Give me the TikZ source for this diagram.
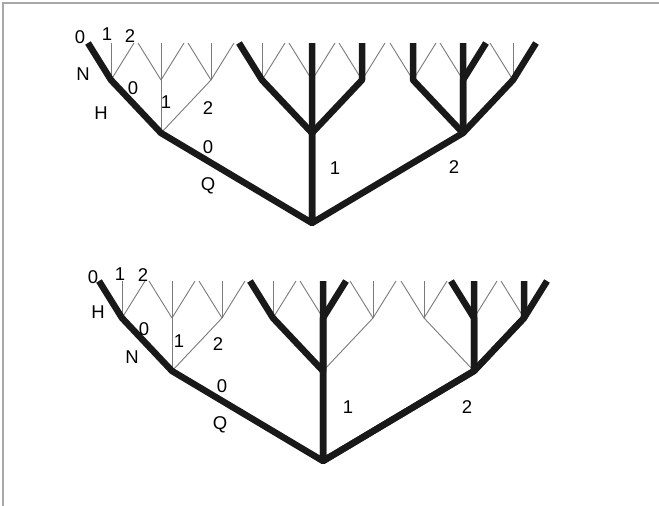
\documentclass[tikz,border=0pt]{standalone}
\usepackage{fontspec}
\setmainfont{Liberation Sans}
\usetikzlibrary{positioning}

\definecolor{twiggray}{HTML}{7A7A7A}
\definecolor{framegray}{HTML}{A8A8A8}

\tikzset{
  twig/.style={draw=twiggray, line width=0.9pt},
  limb/.style={draw=black!90, line width=6.5pt, line cap=butt, line join=round},
  lbl/.style={font=\fontsize{18.5}{18.5}\selectfont, inner sep=0pt},
}

% ternary tree: #1 prefix, root at (#2,#3)
\newcommand\growtree[3]{%
  \coordinate (#1) at (#2,#3);
  \foreach \i/\a in {0/-151,1/0,2/151}{
    \coordinate (#1\i) at (#2+\a,#3-90);
    \draw[twig] (#1) -- (#1\i);
    \foreach \j/\b in {0/-50,1/0,2/50}{
      \coordinate (#1\i\j) at (#2+\a+\b,#3-143);
      \draw[twig] (#1\i) -- (#1\i\j);
      \foreach \k/\c in {0/-23,1/0,2/23}{
        \coordinate (#1\i\j\k) at (#2+\a+\b+\c,#3-180);
        \draw[twig] (#1\i\j) -- (#1\i\j\k);
      }
    }
  }%
}

\begin{document}
\begin{tikzpicture}[x=1pt, y=-1pt]
  \useasboundingbox (0,0) rectangle (659,506);
  \draw[framegray, line width=1.5pt] (3,506) -- (3,3) -- (659,3);

  % upper tree
  \growtree{t}{312}{223}
  \draw[limb] (t000) -- (t00) -- (t0) -- (t) -- (t1) -- (t11) -- (t111);
  \draw[limb] (t100) -- (t10) -- (t1) -- (t12) -- (t121);
  \draw[limb] (t1) -- (t) -- (t2) -- (t21) -- (t211);
  \draw[limb] (t201) -- (t20) -- (t2) -- (t22) -- (t222);
  \draw[limb] (t2) -- (t21) -- (t212);

  \node[lbl] (tl0) at (80,37) {0};
  \node[lbl] (tl1) at (107,34) {1};
  \node[lbl] (tl2) at (130,36) {2};
  \node[lbl] (tN) at (83,74) {N};
  \node[lbl] (tH) at (101,113) {H};
  \node[lbl] (tm0) at (133,88) {0};
  \node[lbl] (tm1) at (166,102) {1};
  \node[lbl] (tm2) at (208,108) {2};
  \node[lbl] (tr0) at (208,147) {0};
  \node[lbl] (tQ) at (208,186) {Q};
  \node[lbl] (tr1) at (335,168) {1};
  \node[lbl] (tr2) at (454,167) {2};

  % lower tree
  \growtree{b}{323}{461}
  \draw[limb] (b000) -- (b00) -- (b0) -- (b) -- (b1) -- (b11) -- (b111);
  \draw[limb] (b100) -- (b10) -- (b1) -- (b11);
  \draw[limb] (b1) -- (b11) -- (b112);
  \draw[limb] (b1) -- (b) -- (b2) -- (b21) -- (b211);
  \draw[limb] (b2) -- (b21) -- (b210);
  \draw[limb] (b) -- (b2) -- (b22) -- (b221);
  \draw[limb] (b2) -- (b22) -- (b222);

  \node[lbl] (bl0) at (93,277) {0};
  \node[lbl] (bl1) at (120,274) {1};
  \node[lbl] (bl2) at (143,275) {2};
  \node[lbl] (bH) at (98,312) {H};
  \node[lbl] (bm0) at (144,329) {0};
  \node[lbl] (bN) at (132,357) {N};
  \node[lbl] (bm1) at (179,341) {1};
  \node[lbl] (bm2) at (218,344) {2};
  \node[lbl] (br0) at (222,386) {0};
  \node[lbl] (bQ) at (220,425) {Q};
  \node[lbl] (br1) at (348,407) {1};
  \node[lbl] (br2) at (467,407) {2};
\end{tikzpicture}
\end{document}
